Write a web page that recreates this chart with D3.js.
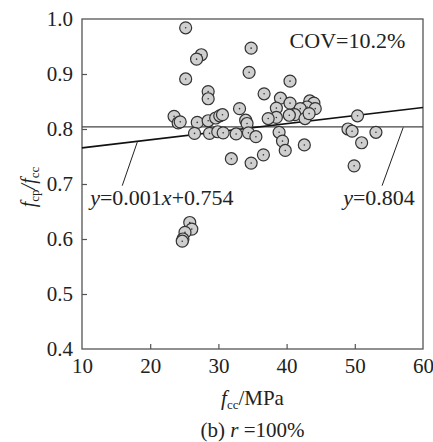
<!DOCTYPE html>
<html>
<head>
<meta charset="utf-8">
<script src="https://cdn.jsdelivr.net/npm/d3@7"></script>
<style>
  body { margin: 0; background: #fff; }
  text { font-family: "Liberation Serif", "Times New Roman", serif; fill: #222; }
  .frame { fill: none; stroke: #555; stroke-width: 1.3; }
  .pt { fill: #cfcfcf; stroke: #333; stroke-width: 1.2; }
  .dot { fill: #333; }
</style>
</head>
<body>
<div id="chart"></div>
<script>
// MARGINS
var MARGIN = { LEFT: 82, RIGHT: 10, TOP: 19, BOTTOM: 93 }
var W = 433, H = 442
var PLOT = { WIDTH: W - MARGIN.LEFT - MARGIN.RIGHT, HEIGHT: H - MARGIN.TOP - MARGIN.BOTTOM }

// DATA
const xTicks = [10, 20, 30, 40, 50, 60]
const yTicks = [0.4, 0.5, 0.6, 0.7, 0.8, 0.9, 1.0]
const fcc = [25.2, 27.5, 26.8, 34.8, 25.2, 34.5, 40.5, 28.5, 28.5, 36.7,
             23.5, 24.1, 24.4, 26.9, 28.5, 29.6, 30.2, 30.6, 33.1, 34.0,
             34.2, 26.5, 28.7, 29.9, 30.7, 32.6, 34.4, 35.5, 31.9, 34.8,
             36.6, 39.1, 40.5, 38.5, 43.4, 44.0, 43.0, 44.2, 42.0, 41.2,
             40.4, 38.5, 37.3, 42.7, 43.3, 38.9, 39.4, 39.8, 42.6, 50.4,
             49.0, 49.6, 53.1, 51.0, 49.9, 25.8, 26.1, 25.1, 24.8, 24.7]
const ratio = [0.984, 0.935, 0.927, 0.947, 0.891, 0.903, 0.887, 0.868, 0.855, 0.864,
               0.823, 0.811, 0.813, 0.812, 0.815, 0.820, 0.824, 0.826, 0.837, 0.816,
               0.810, 0.792, 0.792, 0.795, 0.793, 0.791, 0.793, 0.786, 0.746, 0.738,
               0.753, 0.856, 0.847, 0.838, 0.851, 0.847, 0.840, 0.837, 0.837, 0.826,
               0.825, 0.821, 0.819, 0.819, 0.828, 0.794, 0.778, 0.761, 0.771, 0.824,
               0.800, 0.796, 0.794, 0.775, 0.733, 0.630, 0.618, 0.612, 0.600, 0.596]
const meanRatio = 0.804
const fitSlope = 0.00147, fitIntercept = 0.751   // line as drawn in the figure

const svg = d3.select("#chart").append("svg")
  .attr("width", W).attr("height", H)
const g = svg.append("g").attr("transform", `translate(${MARGIN.LEFT},${MARGIN.TOP})`)

// SCALES
const x = d3.scaleLinear().domain([10, 60]).range([0, PLOT.WIDTH])
const y = d3.scaleLinear().domain([0.4, 1.0]).range([PLOT.HEIGHT, 0])

// AXES (ticks inward)
const gx = g.append("g").attr("transform", `translate(0,${PLOT.HEIGHT})`)
  .call(d3.axisBottom(x).tickValues(xTicks).tickSize(-5).tickPadding(9).tickFormat(d3.format("d")))
const gy = g.append("g")
  .call(d3.axisLeft(y).tickValues(yTicks).tickSize(-5).tickPadding(9).tickFormat(d3.format(".1f")))
;[gx, gy].forEach(a => {
  a.select(".domain").remove()
  a.selectAll("line").attr("stroke", "#555").attr("stroke-width", 1.2)
  a.selectAll("text").style("font-family", '"Liberation Serif", serif').style("font-size", "21px").attr("fill", "#222")
})
gx.selectAll(".tick").filter(d => d === 10 || d === 60).select("line").remove()
gx.selectAll("text").attr("dy", "0.72em")
gy.selectAll(".tick").filter(d => d === 0.4 || d === 1.0).select("line").remove()

g.append("rect").attr("class", "frame")
  .attr("width", PLOT.WIDTH).attr("height", PLOT.HEIGHT)

// REFERENCE LINES
g.append("line")
  .attr("x1", x(10)).attr("x2", x(60))
  .attr("y1", y(meanRatio)).attr("y2", y(meanRatio))
  .attr("stroke", "#444").attr("stroke-width", 1.2)
g.append("line")
  .attr("x1", x(10)).attr("x2", x(60))
  .attr("y1", y(fitSlope * 10 + fitIntercept)).attr("y2", y(fitSlope * 60 + fitIntercept))
  .attr("stroke", "#111").attr("stroke-width", 1.6)

// POINTS
const pts = g.append("g").selectAll("g").data(fcc.map((d, i) => [d, ratio[i]]))
  .join("g").attr("transform", d => `translate(${x(d[0])},${y(d[1])})`)
pts.append("circle").attr("class", "pt").attr("r", 6)
pts.append("circle").attr("class", "dot").attr("r", 0.8)

// ANNOTATIONS
function leader(a, b) {
  g.append("line")
    .attr("x1", x(a[0])).attr("y1", y(a[1]))
    .attr("x2", x(b[0])).attr("y2", y(b[1]))
    .attr("stroke", "#222").attr("stroke-width", 1)
}
leader([15.9, 0.697], [18.1, 0.776])
leader([54.0, 0.697], [57.1, 0.803])

const eq1 = g.append("text").attr("x", x(11.2)).attr("y", y(0.661)).style("font-size", "22px")
eq1.append("tspan").attr("font-style", "italic").text("y")
eq1.append("tspan").text("=0.001")
eq1.append("tspan").attr("font-style", "italic").text("x")
eq1.append("tspan").text("+0.754")

const eq2 = g.append("text").attr("x", x(58.8)).attr("y", y(0.661)).attr("text-anchor", "end").style("font-size", "22px")
eq2.append("tspan").attr("font-style", "italic").text("y")
eq2.append("tspan").text("=0.804")

g.append("text").attr("x", x(57.4)).attr("y", y(0.947)).attr("text-anchor", "end")
  .style("font-size", "22px").text("COV=10.2%")

// AXIS TITLES
const yt = svg.append("text").attr("transform", "translate(35,187) rotate(-90)")
  .attr("text-anchor", "middle").style("font-size", "20px")
yt.append("tspan").attr("font-style", "italic").text("f")
yt.append("tspan").attr("font-size", "13px").attr("dy", 4).text("cp")
yt.append("tspan").attr("dy", -4).attr("font-style", "italic").text("/f")
yt.append("tspan").attr("font-size", "13px").attr("dy", 4).text("cc")

const xt = svg.append("text").attr("x", MARGIN.LEFT + x(35)).attr("y", 405)
  .attr("text-anchor", "middle").style("font-size", "21px")
xt.append("tspan").attr("font-style", "italic").text("f")
xt.append("tspan").attr("font-size", "13px").attr("dy", 4).text("cc")
xt.append("tspan").attr("dy", -4).text("/MPa")

const cap = svg.append("text").attr("x", MARGIN.LEFT + x(35)).attr("y", 437)
  .attr("text-anchor", "middle").style("font-size", "21px")
cap.append("tspan").text("(b) ")
cap.append("tspan").attr("font-style", "italic").text("r")
cap.append("tspan").text(" =100%")
</script>
</body>
</html>
